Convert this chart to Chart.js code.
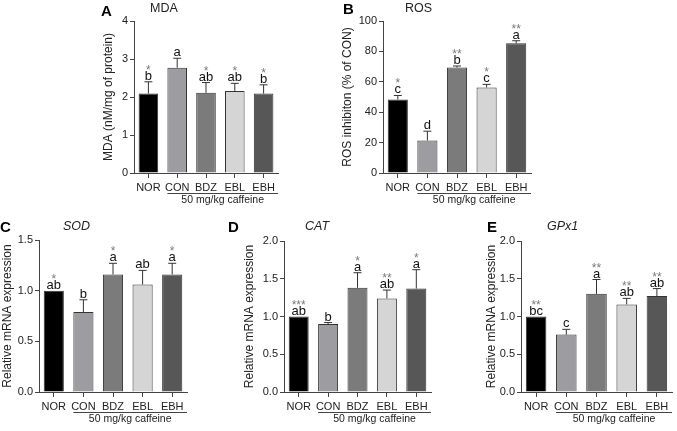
<!DOCTYPE html>
<html>
<head>
<meta charset="utf-8">
<script src="https://cdn.jsdelivr.net/npm/chart.js@4.4.0/dist/chart.umd.min.js"></script>
<style>
  body { margin: 0; background: #fff; width: 677px; height: 431px; position: relative; overflow: hidden; }
  canvas { position: absolute; }
</style>
</head>
<body>
<canvas id="cA" width="190" height="215" style="left:95px;top:0px"></canvas>
<canvas id="cB" width="210" height="215" style="left:330px;top:0px"></canvas>
<canvas id="cC" width="200" height="216" style="left:0px;top:215px"></canvas>
<canvas id="cD" width="215" height="216" style="left:225px;top:215px"></canvas>
<canvas id="cE" width="222" height="216" style="left:455px;top:215px"></canvas>
<script>
// groups and bar colours
const groups = ['NOR', 'CON', 'BDZ', 'EBL', 'EBH'];
const barColors = ['#000000', '#9c9ca1', '#7b7b7b', '#d5d5d5', '#575757'];

// A - MDA
const mdaMean = [2.09, 2.77, 2.11, 2.16, 2.09];
const mdaErr = [0.31, 0.25, 0.27, 0.20, 0.23];
const mdaLetters = ['b', 'a', 'ab', 'ab', 'b'];
const mdaStars = ['*', '', '*', '*', '*'];

// B - ROS
const rosMean = [48.4, 21.4, 69.4, 56.3, 85.3];
const rosErr = [2.6, 6.1, 1.0, 2.0, 1.7];
const rosLetters = ['c', 'd', 'b', 'c', 'a'];
const rosStars = ['*', '', '**', '*', '**'];

// C - SOD
const sodMean = [1.00, 0.79, 1.16, 1.06, 1.16];
const sodErr = [0, 0.12, 0.11, 0.14, 0.11];
const sodLetters = ['ab', 'b', 'a', 'ab', 'a'];
const sodStars = ['*', '', '*', '', '*'];

// D - CAT
const catMean = [1.00, 0.90, 1.38, 1.24, 1.37];
const catErr = [0, 0.02, 0.20, 0.11, 0.25];
const catLetters = ['ab', 'b', 'a', 'ab', 'a'];
const catStars = ['***', '', '*', '**', '*'];

// E - GPx1
const gpxMean = [1.00, 0.76, 1.30, 1.16, 1.27];
const gpxErr = [0, 0.07, 0.19, 0.08, 0.10];
const gpxLetters = ['bc', 'c', 'a', 'ab', 'ab'];
const gpxStars = ['**', '', '**', '**', '**'];

const FONT = '"Liberation Sans", Arial, sans-serif';
Chart.defaults.font.family = FONT;
Chart.defaults.color = '#222';

const marks = {
  id: 'marks',
  afterDatasetsDraw(chart, args, o) {
    const ctx = chart.ctx;
    const meta = chart.getDatasetMeta(0);
    const y = chart.scales.y;
    const area = chart.chartArea;
    ctx.save();
    ctx.textAlign = 'center';
    ctx.textBaseline = 'alphabetic';
    meta.data.forEach(function (bar, i) {
      var top = bar.y;
      if (o.err[i] > 0) {
        top = y.getPixelForValue(o.mean[i] + o.err[i]);
        ctx.strokeStyle = '#333';
        ctx.lineWidth = 1;
        ctx.beginPath();
        ctx.moveTo(bar.x, bar.y);
        ctx.lineTo(bar.x, top);
        ctx.moveTo(bar.x - 4, top);
        ctx.lineTo(bar.x + 4, top);
        ctx.stroke();
      }
      ctx.fillStyle = '#111';
      ctx.font = '13px ' + FONT;
      ctx.fillText(o.letters[i], bar.x, top - 2);
      ctx.fillStyle = '#7a7a7a';
      ctx.font = '12px ' + FONT;
      ctx.fillText(o.stars[i], bar.x, top - 8);
    });

    // caffeine group line
    const con = meta.data[1];
    const x0 = con.x - con.width / 2;
    const x1 = area.right;
    ctx.strokeStyle = '#444';
    ctx.beginPath();
    ctx.moveTo(x0, area.bottom + 20.5);
    ctx.lineTo(x1, area.bottom + 20.5);
    ctx.stroke();
    ctx.fillStyle = '#222';
    ctx.font = '10.5px ' + FONT;
    ctx.fillText('50 mg/kg caffeine', (x0 + x1) / 2, area.bottom + 30);

    // panel letter and title
    ctx.textAlign = 'left';
    ctx.fillStyle = '#000';
    ctx.font = 'bold 15px ' + FONT;
    ctx.fillText(o.panel[0], o.panel[1], o.panel[2]);
    ctx.font = (o.italic ? 'italic ' : '') + '12.5px ' + FONT;
    ctx.fillStyle = '#222';
    ctx.fillText(o.title[0], o.title[1], o.title[2]);
    ctx.restore();
  }
};

function makeChart(id, p) {
  new Chart(document.getElementById(id), {
    type: 'bar',
    data: {
      labels: groups,
      datasets: [{
        data: p.mean,
        backgroundColor: barColors,
        borderColor: '#333',
        borderWidth: 1,
        categoryPercentage: 1,
        barPercentage: 0.68
      }]
    },
    options: {
      responsive: false,
      animation: false,
      layout: { padding: p.pad },
      plugins: {
        legend: { display: false },
        tooltip: { enabled: false },
        marks: p
      },
      scales: {
        x: {
          afterFit: function (s) { s.height = p.xH; },
          grid: { drawOnChartArea: false, offset: false, tickLength: 5, color: '#444' },
          border: { color: '#444' },
          ticks: { padding: 3, font: { size: 11 }, color: '#222', maxRotation: 0, minRotation: 0, autoSkip: false }
        },
        y: {
          min: 0,
          max: p.max,
          afterFit: function (s) { s.width = p.yW; },
          grid: { drawOnChartArea: false, tickLength: 4, color: '#444' },
          border: { color: '#444' },
          ticks: {
            stepSize: p.step,
            padding: 2,
            font: { size: 11 },
            color: '#222',
            callback: function (v) { return p.fixed ? v.toFixed(1) : v; }
          },
          title: { display: true, text: p.yTitle, font: { size: 12 }, color: '#222', padding: 0 }
        }
      }
    },
    plugins: [marks]
  });
}

makeChart('cA', {
  mean: mdaMean, err: mdaErr, letters: mdaLetters, stars: mdaStars,
  max: 4, step: 1, fixed: false, yTitle: 'MDA (nM/mg of protein)',
  pad: { left: 6, top: 21, right: 7, bottom: 0 }, yW: 33, xH: 42,
  panel: ['A', 6, 15.5], title: ['MDA', 55, 12], italic: false
});
makeChart('cB', {
  mean: rosMean, err: rosErr, letters: rosLetters, stars: rosStars,
  max: 100, step: 20, fixed: false, yTitle: 'ROS inhibiton (% of CON)',
  pad: { left: 10, top: 21, right: 9, bottom: 0 }, yW: 43, xH: 42,
  panel: ['B', 13, 14], title: ['ROS', 75, 12], italic: false
});
makeChart('cC', {
  mean: sodMean, err: sodErr, letters: sodLetters, stars: sodStars,
  max: 1.5, step: 0.5, fixed: true, yTitle: 'Relative mRNA expression',
  pad: { left: 0, top: 25, right: 13, bottom: 0 }, yW: 39, xH: 39,
  panel: ['C', 0, 17], title: ['SOD', 63, 15], italic: true
});
makeChart('cD', {
  mean: catMean, err: catErr, letters: catLetters, stars: catStars,
  max: 2, step: 0.5, fixed: true, yTitle: 'Relative mRNA expression',
  pad: { left: 17, top: 26, right: 9, bottom: 0 }, yW: 42, xH: 39,
  panel: ['D', 3, 17], title: ['CAT', 80, 15], italic: true
});
makeChart('cE', {
  mean: gpxMean, err: gpxErr, letters: gpxLetters, stars: gpxStars,
  max: 2, step: 0.5, fixed: true, yTitle: 'Relative mRNA expression',
  pad: { left: 29, top: 26, right: 5, bottom: 0 }, yW: 37, xH: 39,
  panel: ['E', 32, 17], title: ['GPx1', 92, 15], italic: true
});
</script>
</body>
</html>
